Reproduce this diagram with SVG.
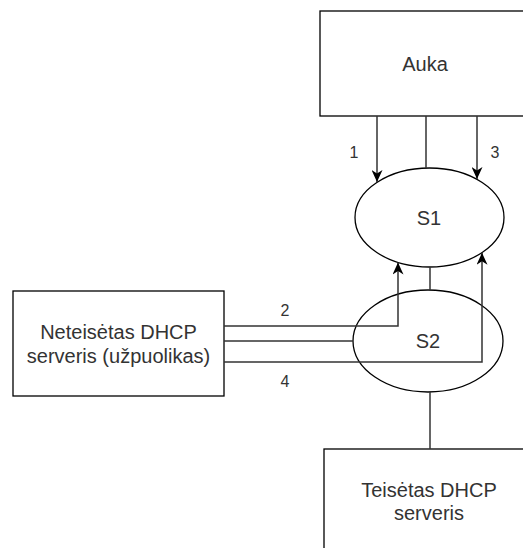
<svg xmlns="http://www.w3.org/2000/svg" width="523" height="548" viewBox="0 0 523 548">
<style>
.shape{fill:#fff;stroke:#000;stroke-width:1.3}
.conn{fill:none;stroke:#333;stroke-width:1.5}
.t{font-family:"Liberation Sans",Arial,sans-serif;font-size:20px;fill:#333;text-anchor:middle}
.l{font-family:"Liberation Sans",Arial,sans-serif;font-size:16px;fill:#333;text-anchor:middle}
</style>
<defs>
<marker id="arr" viewBox="0 0 13 11" refX="12" refY="5.5" markerWidth="13" markerHeight="11" markerUnits="userSpaceOnUse" orient="auto">
<path d="M0,0 L12,5.5 L0,11 L3.5,5.5 Z" fill="#000"/>
</marker>
</defs>
<rect width="523" height="548" fill="#fff"/>
<g id="auka"><rect class="shape" x="320" y="11" width="210" height="105"/><text class="t" x="425" y="71">Auka</text></g>
<g id="s1"><ellipse class="shape" cx="429.5" cy="217.5" rx="74.5" ry="49.5"/><text class="t" x="429" y="225">S1</text></g>
<g id="s2"><ellipse class="shape" cx="428" cy="341" rx="75" ry="51"/><text class="t" x="428" y="348">S2</text></g>
<g id="neteisetas"><rect class="shape" x="13" y="291" width="211" height="105"/><text class="t" x="118.5" y="339">Neteisėtas DHCP</text><text class="t" x="118.5" y="363">serveris (užpuolikas)</text></g>
<g id="teisetas"><rect class="shape" x="324" y="449" width="210" height="110"/><text class="t" x="429" y="497">Teisėtas DHCP</text><text class="t" x="429" y="520">serveris</text></g>
<g id="connectors">
<path class="conn" d="M377,116 L377,182" marker-end="url(#arr)"/>
<path class="conn" d="M426,116 L426,168"/>
<path class="conn" d="M477,116 L477,179" marker-end="url(#arr)"/>
<path class="conn" d="M430,267 L430,290"/>
<path class="conn" d="M430,392 L430,449"/>
<path class="conn" d="M224,341 L353,341"/>
<path class="conn" d="M224,326 L398,326 L398,262.5" marker-end="url(#arr)"/>
<path class="conn" d="M224,362 L482,362 L482,252.8" marker-end="url(#arr)"/>
<text class="l" x="354" y="158">1</text>
<text class="l" x="495" y="158">3</text>
<text class="l" x="285" y="316">2</text>
<text class="l" x="285" y="387">4</text>
</g>
</svg>
